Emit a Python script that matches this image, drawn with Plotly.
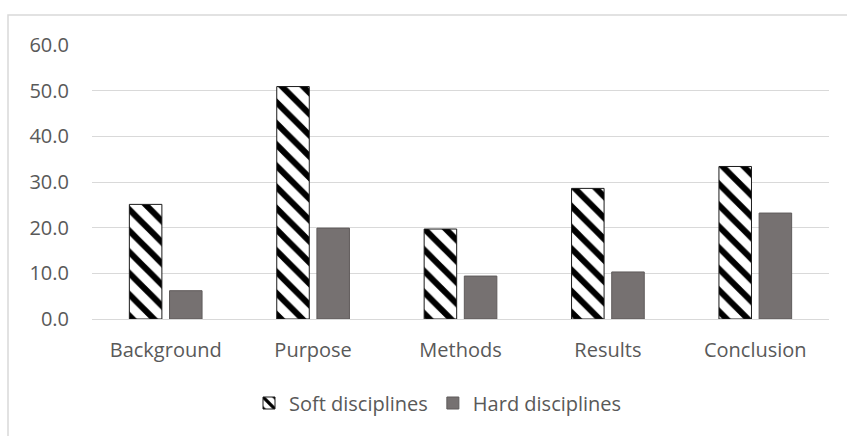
import plotly.graph_objects as go

categories = ["Background", "Purpose", "Methods", "Results", "Conclusion"]
soft_values = [25.1, 50.9, 19.7, 28.6, 33.4]
hard_values = [6.2, 19.9, 9.4, 10.3, 23.2]
y_ticks = [0, 10, 20, 30, 40, 50, 60]

W, H = 847, 436
L, R, T, B = 92, 18, 45, 117
pw, ph = W - L - R, H - T - B

font_family = "Open Sans, Liberation Sans, sans-serif"
txt = "#595959"
fs = 20

fig = go.Figure()
fig.add_trace(go.Bar(
    x=categories, y=soft_values, name="Soft disciplines",
    marker=dict(color="white",
                line=dict(color="#1a1a1a", width=1),
                pattern=dict(shape="\\", fgcolor="black", bgcolor="white",
                             fgopacity=1, fillmode="replace",
                             size=15, solidity=0.4)),
))
fig.add_trace(go.Bar(
    x=categories, y=hard_values, name="Hard disciplines",
    marker=dict(color="#767171", line=dict(color="#5f5b5b", width=1)),
))

fig.update_layout(
    width=W, height=H,
    margin=dict(l=L, r=R, t=T, b=B, pad=0),
    paper_bgcolor="white", plot_bgcolor="white",
    barmode="group", bargap=0.455, bargroupgap=0.19,
    font=dict(family=font_family, size=fs, color=txt),
    showlegend=True,
    legend=dict(orientation="h", x=(438 - L) / pw, xanchor="center",
                y=(T + ph - 403) / ph, yanchor="middle",
                font=dict(size=fs, color=txt), itemwidth=30,
                bgcolor="rgba(0,0,0,0)"),
    xaxis=dict(showgrid=False, showline=False, zeroline=False, ticks="",
               ticklabelstandoff=17, tickfont=dict(size=fs, color=txt)),
    yaxis=dict(range=[0, 60], tickvals=y_ticks, tickformat=".1f",
               showgrid=True, gridcolor="#d9d9d9", gridwidth=1.3,
               zeroline=True, zerolinecolor="#d9d9d9", zerolinewidth=1.3,
               showline=False, ticks="", ticklabelstandoff=22,
               tickfont=dict(size=fs, color=txt)),
    shapes=[dict(type="rect", xref="paper", yref="paper",
                 x0=(8 - L) / pw, x1=1.2,
                 y0=-0.6, y1=1 + (T - 15) / ph,
                 line=dict(color="#d9d9d9", width=1.5), layer="below")],
)

fig.write_html("out.html")
